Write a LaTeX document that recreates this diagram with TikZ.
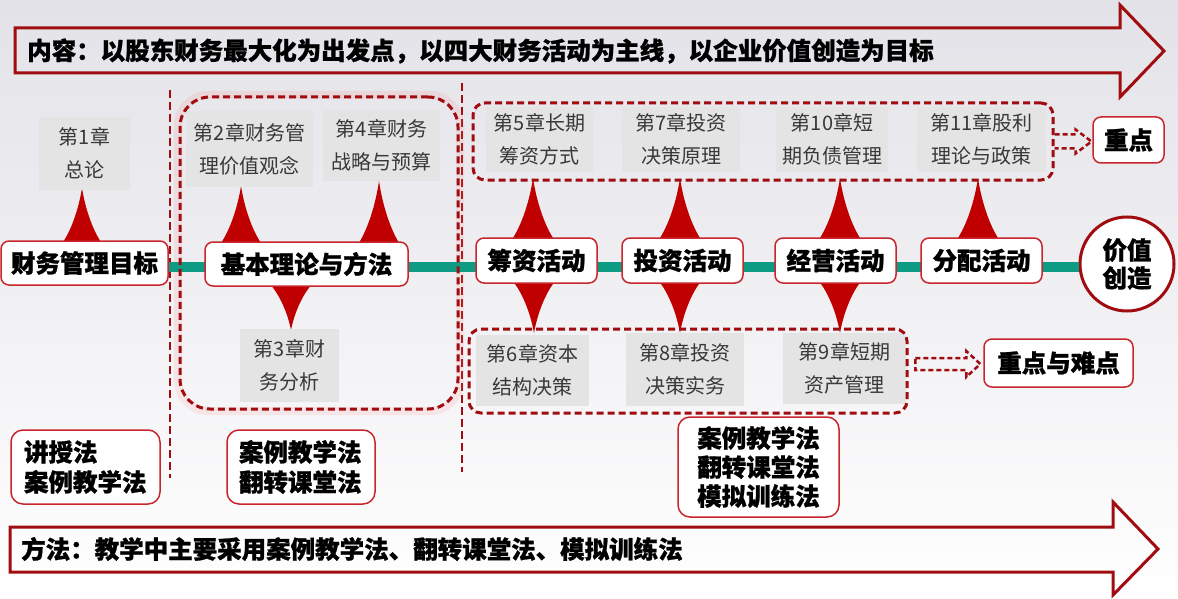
\documentclass[tikz,border=0pt]{standalone}
\usepackage{fontspec}
\setmainfont{Noto Sans CJK SC}[BoldFeatures={FakeBold=1}]
\usetikzlibrary{calc}
\definecolor{dred}{HTML}{A00C10}
\definecolor{bred}{HTML}{C8252C}
\definecolor{spkred}{HTML}{C00000}
\definecolor{teal1}{HTML}{0E9B84}
\definecolor{gbox}{HTML}{E4E4E4}
\definecolor{gtext}{HTML}{383838}
\definecolor{bgtop}{HTML}{E2E2E8}
\newcommand\myspike[4]{%
  \fill[spkred] (#1,#2) .. controls ({#1-0.15*#4},{#2+0.35*(#3-#2)}) and ({#1-0.5*#4},{#2+0.75*(#3-#2)}) .. ({#1-#4},{#3})
    -- ({#1+#4},{#3}) .. controls ({#1+0.5*#4},{#2+0.75*(#3-#2)}) and ({#1+0.15*#4},{#2+0.35*(#3-#2)}) .. (#1,#2) -- cycle;}
\begin{document}
\begin{tikzpicture}[x=1pt,y=-1pt,
  chap/.style={fill=gbox, text=gtext, font=\fontsize{20}{33}\selectfont, align=center, inner sep=0pt},
  act/.style={draw=bred, line width=1.5pt, fill=white, rounded corners=8pt, font=\bfseries\fontsize{24.5}{30}\selectfont, inner sep=0pt},
  grp/.style={draw=dred, line width=3pt, dash pattern=on 7pt off 4pt, rounded corners=12pt, inner sep=0pt},
  meth/.style={draw=bred, line width=1.5pt, fill=white, rounded corners=12pt, inner sep=0pt},
  vdash/.style={draw=dred, line width=2.8pt, dash pattern=on 8pt off 4pt},
  bigarrow/.style={draw=dred, line width=3pt, line join=miter},
  harrow/.style={draw=dred, line width=2.5pt, dash pattern=on 5pt off 3pt},
  bigtext/.style={font=\bfseries\fontsize{24.5}{29}\selectfont, inner sep=0pt}
]
\shade[top color=bgtop,bottom color=white] (0,0) rectangle (1178,599);
\useasboundingbox (0,0) rectangle (1178,599);

% vertical separators
\coordinate (v1a) at (170,90); \coordinate (v1b) at (170,478);
\coordinate (v2a) at (462,83); \coordinate (v2b) at (462,472);
\draw[vdash] (v1a) -- (v1b);
\draw[vdash] (v2a) -- (v2b);

% glow of left group
\node[draw=red!50, opacity=0.15, line width=8pt, rounded corners=30pt, minimum width=282pt, minimum height=316pt, inner sep=0pt] (g1glow) at (319,253) {};

% circle
\node[circle, draw=dred, line width=3pt, fill=white, minimum size=94pt, inner sep=0pt, align=center, font=\bfseries\fontsize{24.5}{28}\selectfont] (vc) at (1127,264) {价值\\创造};

% main line
\draw[teal1, line width=10pt] (168,267) -- (vc.west |- 0,267);

% spikes (top)
\myspike{82}{188}{245}{21}
\myspike{241}{186}{246}{22}
\myspike{379}{181}{246}{22}
\myspike{533}{178}{241}{22}
\myspike{680}{178}{241}{22}
\myspike{840}{178}{241}{22}
\myspike{978}{178}{241}{22}
% spikes (bottom)
\myspike{291}{330}{283}{22}
\myspike{534}{333}{280}{22}
\myspike{680}{333}{280}{22}
\myspike{840}{333}{280}{22}

% chapter boxes
\node[chap, minimum width=91pt, minimum height=73pt] (c1) at (84.5,153.5) {第1章\\总论};
\node[chap, minimum width=127pt, minimum height=76pt] (c2) at (249.5,149) {第2章财务管\\理价值观念};
\node[chap, minimum width=117pt, minimum height=71pt] (c4) at (381.5,145.5) {第4章财务\\战略与预算};
\node[chap, minimum width=107pt, minimum height=65pt] (c5) at (539.5,139.5) {第5章长期\\筹资方式};
\node[chap, minimum width=118pt, minimum height=65pt] (c7) at (681,139.5) {第7章投资\\决策原理};
\node[chap, minimum width=112pt, minimum height=65pt] (c10) at (832,139.5) {第10章短\\期负债管理};
\node[chap, minimum width=129pt, minimum height=65pt] (c11) at (981.5,139.5) {第11章股利\\理论与政策};
\node[chap, minimum width=99pt, minimum height=73pt] (c3) at (289.5,365.5) {第3章财\\务分析};
\node[chap, minimum width=113pt, minimum height=71pt] (c6) at (532.5,370.5) {第6章资本\\结构决策};
\node[chap, minimum width=118pt, minimum height=73pt] (c8) at (685,369.5) {第8章投资\\决策实务};
\node[chap, minimum width=123pt, minimum height=71pt] (c9) at (844.5,368.5) {第9章短期\\资产管理};

% groups
\node[grp, rounded corners=30pt, minimum width=278pt, minimum height=312pt] (g1) at (319,253) {};
\node[grp, minimum width=580pt, minimum height=77pt] (g2) at (763,141.5) {};
\node[grp, minimum width=438pt, minimum height=84pt] (g3) at (688,371) {};

% activity boxes
\node[act, minimum width=167pt, minimum height=44pt] (a0) at (84.5,263) {财务管理目标};
\node[act, minimum width=203pt, minimum height=44pt] (a1) at (306.5,264) {基本理论与方法};
\node[act, minimum width=121pt, minimum height=45pt] (a2) at (536.5,260.5) {筹资活动};
\node[act, minimum width=121pt, minimum height=45pt] (a3) at (682.5,260.5) {投资活动};
\node[act, minimum width=121pt, minimum height=45pt] (a4) at (835.5,260.5) {经营活动};
\node[act, minimum width=121pt, minimum height=45pt] (a5) at (981.5,260.5) {分配活动};

% key point boxes
\node[act, minimum width=71pt, minimum height=46pt] (k1) at (1128.5,140) {重点};
\node[act, minimum width=149pt, minimum height=48pt] (k2) at (1058.5,363) {重点与难点};

% hollow dashed arrows
\draw[harrow, shift={(g2.east)}] (0,-7) -- (21,-7) -- (21,-12) -- (37,0) -- (21,12) -- (21,7) -- (0,7);
\draw[harrow, shift={(k2.west)}] (-68,-5) -- (-17,-5) -- (-17,-12) -- (-3,1) -- (-17,14) -- (-17,7) -- (-68,7) -- cycle;

% method boxes
\node[meth, minimum width=149pt, minimum height=74pt, text width=123pt, inner xsep=13pt, align=left, font=\bfseries\fontsize{24.5}{30}\selectfont] (m1) at (85.5,467) {讲授法\\案例教学法};
\node[meth, minimum width=148pt, minimum height=74pt, text width=124pt, inner xsep=12pt, align=left, font=\bfseries\fontsize{24.5}{30}\selectfont] (m2) at (301,467) {案例教学法\\翻转课堂法};
\node[meth, minimum width=161pt, minimum height=100pt, align=center, font=\bfseries\fontsize{24.5}{29}\selectfont] (m3) at (758.5,467) {案例教学法\\翻转课堂法\\模拟训练法};

% big arrows
\draw[bigarrow] (15,28) -- (1120,28) -- (1120,5) -- (1164,51) -- (1120,97) -- (1120,73) -- (15,73) -- cycle;
\node[bigtext, anchor=west] (t1) at (27,51) {内容：以股东财务最大化为出发点，以四大财务活动为主线，以企业价值创造为目标};
\draw[bigarrow] (10,527) -- (1113,527) -- (1113,502) -- (1158,549) -- (1113,595) -- (1113,572) -- (10,572) -- cycle;
\node[bigtext, anchor=west] (t2) at (21,549) {方法：教学中主要采用案例教学法、翻转课堂法、模拟训练法};
\end{tikzpicture}
\end{document}
